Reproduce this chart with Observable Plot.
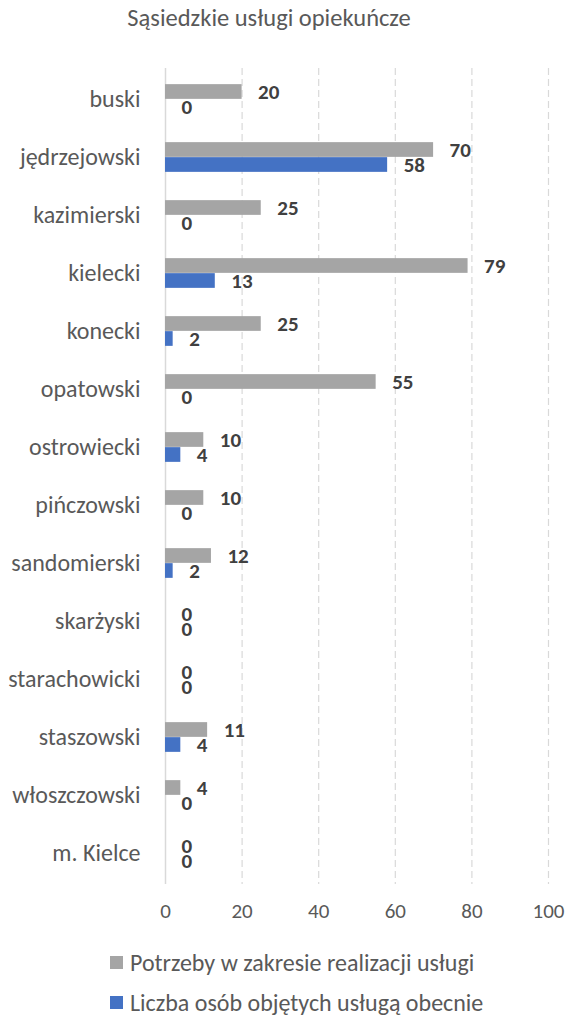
<!DOCTYPE html>
<html>
<head>
<meta charset="utf-8">
<script src="https://cdn.jsdelivr.net/npm/d3@7"></script>
<script src="https://cdn.jsdelivr.net/npm/@observablehq/plot@0.6"></script>
<style>
  html, body { margin: 0; padding: 0; background: #fff; }
  body { width: 567px; height: 1021px; overflow: hidden; font-family: Carlito, Calibri, Lato, "Open Sans", sans-serif; color: #595959; }
  #title { height: 55px; position: relative; }
  #title span { position: absolute; left: 269px; top: 3px; transform: translateX(-50%); font-size: 24.5px; white-space: nowrap; }
  #legend { position: relative; height: 86px; }
  .item { position: absolute; left: 110px; display: flex; align-items: center; font-size: 24px; white-space: nowrap; }
  .sw { width: 13px; height: 13px; margin-right: 7px; }
</style>
</head>
<body>
<div id="title"><span>Sąsiedzkie usługi opiekuńcze</span></div>
<div id="chart"></div>
<div id="legend"></div>
<script>
const categories = ["buski", "jędrzejowski", "kazimierski", "kielecki", "konecki", "opatowski", "ostrowiecki", "pińczowski", "sandomierski", "skarżyski", "starachowicki", "staszowski", "włoszczowski", "m. Kielce"];
const needs = [20, 70, 25, 79, 25, 55, 10, 10, 12, 0, 0, 11, 4, 0];
const current = [0, 58, 0, 13, 2, 0, 4, 0, 2, 0, 0, 4, 0, 0];
const seriesNames = ["Potrzeby w zakresie realizacji usługi", "Liczba osób objętych usługą obecnie"];
const seriesColors = ["#A5A5A5", "#4472C4"];
const xTicks = [0, 20, 40, 60, 80, 100];

const data = categories.map((c, i) => ({cat: c, needs: needs[i], current: current[i]}));

const W = 567, H = 880, mT = 13, mB = 51, mL = 165, mR = 19;
const bw = (H - mT - mB) / categories.length;
const barH = 15;
const font = "Carlito, Calibri, Lato, 'Open Sans', sans-serif";

const chart = Plot.plot({
  width: W, height: H,
  marginTop: mT, marginBottom: mB, marginLeft: mL, marginRight: mR,
  style: {fontFamily: font, color: "#595959", background: "#fff"},
  x: {domain: [0, 100]},
  y: {domain: categories, padding: 0},
  marks: [
    Plot.ruleX(xTicks.filter(d => d > 0), {stroke: "#D9D9D9", strokeWidth: 1.2, strokeDasharray: "7,4"}),
    Plot.ruleX([0], {stroke: "#D9D9D9", strokeWidth: 1.5}),
    Plot.barX(data, {x: "needs", y: "cat", fill: seriesColors[0], insetTop: bw / 2 - barH, insetBottom: bw / 2}),
    Plot.barX(data, {x: "current", y: "cat", fill: seriesColors[1], insetTop: bw / 2, insetBottom: bw / 2 - barH}),
    Plot.text(data, {x: "needs", y: "cat", text: d => String(d.needs), dy: -7.5, dx: 16, textAnchor: "start", fontWeight: "bold", fontSize: 21, fill: "#404040"}),
    Plot.text(data, {x: "current", y: "cat", text: d => String(d.current), dy: 7.5, dx: 16, textAnchor: "start", fontWeight: "bold", fontSize: 21, fill: "#404040"}),
    Plot.axisX({ticks: xTicks, tickSize: 0, tickPadding: 19, fontSize: 21, color: "#595959", label: null}),
    Plot.axisY({tickSize: 0, tickPadding: 25, fontSize: 24, color: "#595959", label: null})
  ]
});
document.getElementById("chart").appendChild(chart);

const legend = document.getElementById("legend");
seriesNames.forEach((name, i) => {
  const it = document.createElement("div");
  it.className = "item";
  it.style.top = (i === 0 ? 13 : 53) + "px";
  const sw = document.createElement("span");
  sw.className = "sw";
  sw.style.background = seriesColors[i];
  const t = document.createElement("span");
  t.textContent = name;
  it.appendChild(sw); it.appendChild(t);
  legend.appendChild(it);
});
</script>
</body>
</html>
